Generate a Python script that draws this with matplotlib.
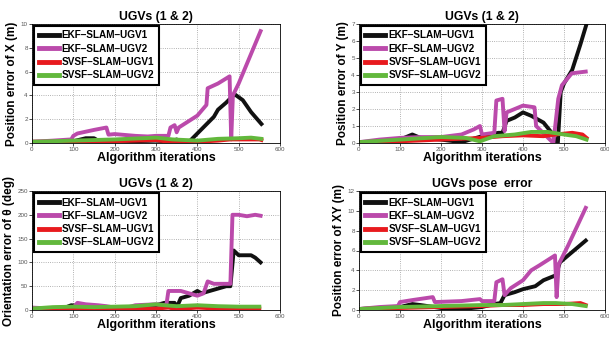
import matplotlib
matplotlib.use("Agg")
import matplotlib.pyplot as plt

plt.rcParams['font.family'] = ['Liberation Sans', 'DejaVu Sans']

labels = ["EKF\u2013SLAM\u2013UGV1", "EKF\u2013SLAM\u2013UGV2", "SVSF\u2013SLAM\u2013UGV1", "SVSF\u2013SLAM\u2013UGV2"]
colors = ["#111111", "#bb4aab", "#e81a1e", "#62b83c"]

# Panel 1: X error
x1_ekf1 = [0, 50, 100, 130, 150, 160, 200, 250, 300, 340, 350, 355, 380, 400, 420, 440, 450, 470, 490, 510, 530, 555]
y1_ekf1 = [0.1, 0.1, 0.15, 0.4, 0.4, 0.2, 0.2, 0.15, 0.2, 0.1, 0.3, 0.1, 0.1, 0.8, 1.5, 2.2, 2.8, 3.4, 4.1, 3.6, 2.6, 1.6]
x1_ekf2 = [0, 50, 95, 100, 110, 150, 180, 185, 200, 250, 280, 300, 330, 335, 345, 350, 355, 400, 422, 425, 450, 478, 482, 486, 500, 553]
y1_ekf2 = [0.1, 0.2, 0.3, 0.6, 0.8, 1.1, 1.3, 0.7, 0.75, 0.6, 0.55, 0.6, 0.6, 1.3, 1.5, 0.9, 1.3, 2.3, 3.2, 4.6, 5.0, 5.6, 0.3, 4.0, 5.0, 9.4]
x1_svsf1 = [0, 100, 200, 300, 330, 400, 450, 480, 550, 555]
y1_svsf1 = [0.1, 0.1, 0.15, 0.25, 0.1, 0.1, 0.2, 0.3, 0.3, 0.25]
x1_svsf2 = [0, 100, 200, 300, 340, 400, 450, 500, 530, 555]
y1_svsf2 = [0.1, 0.2, 0.3, 0.45, 0.3, 0.2, 0.35, 0.4, 0.45, 0.35]

# Panel 2: Y error
x2_ekf1 = [0, 90, 130, 150, 200, 250, 300, 340, 350, 360, 380, 400, 420, 450, 470, 480, 485, 492, 500, 520, 540, 555]
y2_ekf1 = [0.05, 0.1, 0.5, 0.3, 0.2, 0.05, 0.4, 0.6, 0.6, 1.3, 1.5, 1.8, 1.6, 1.2, 0.6, 0.1, 0.0, 3.0, 3.5, 4.3, 5.8, 7.0]
x2_ekf2 = [0, 50, 100, 150, 200, 250, 280, 295, 300, 330, 335, 350, 355, 360, 380, 400, 428, 432, 474, 486, 495, 519, 553]
y2_ekf2 = [0.05, 0.2, 0.3, 0.35, 0.35, 0.5, 0.8, 1.0, 0.5, 0.6, 2.5, 2.6, 0.7, 1.8, 2.0, 2.2, 2.1, 1.0, 0.0, 2.6, 3.4, 4.1, 4.2]
x2_svsf1 = [0, 100, 200, 300, 350, 400, 450, 480, 520, 545, 555]
y2_svsf1 = [0.05, 0.1, 0.2, 0.3, 0.4, 0.45, 0.4, 0.5, 0.6, 0.5, 0.3]
x2_svsf2 = [0, 100, 200, 260, 295, 330, 380, 420, 460, 500, 530, 555]
y2_svsf2 = [0.05, 0.2, 0.35, 0.3, 0.1, 0.4, 0.5, 0.65, 0.65, 0.5, 0.4, 0.2]

# Panel 3: orientation error
x3_ekf1 = [0, 80, 95, 120, 150, 200, 250, 300, 320, 345, 350, 360, 380, 400, 410, 430, 450, 470, 480, 488, 500, 530, 540, 553]
y3_ekf1 = [3, 5, 10, 8, 5, 3, 5, 10, 15, 15, 5, 25, 30, 40, 35, 40, 45, 50, 50, 125, 115, 115, 110, 100]
x3_ekf2 = [0, 50, 100, 110, 130, 160, 180, 200, 230, 250, 300, 325, 330, 360, 380, 400, 415, 425, 440, 480, 485, 500, 520, 540, 553]
y3_ekf2 = [5, 3, 5, 15, 12, 10, 8, 5, 5, 10, 12, 10, 40, 40, 35, 30, 35, 60, 55, 55, 200, 200, 197, 200, 198]
x3_svsf1 = [0, 100, 200, 300, 330, 350, 400, 450, 550]
y3_svsf1 = [2, 3, 2, 3, 5, 2, 5, 3, 3]
x3_svsf2 = [0, 50, 100, 150, 250, 300, 320, 350, 400, 450, 500, 550]
y3_svsf2 = [3, 6, 7, 6, 8, 12, 10, 8, 10, 8, 7, 7]

# Panel 4: XY error
x4_ekf1 = [0, 100, 130, 150, 200, 250, 300, 330, 345, 355, 380, 400, 430, 450, 480, 490, 510, 553]
y4_ekf1 = [0.1, 0.3, 0.6, 0.5, 0.2, 0.1, 0.3, 0.6, 0.7, 1.5, 1.8, 2.1, 2.4, 3.0, 3.5, 4.8, 5.5, 7.0]
x4_ekf2 = [0, 50, 95, 100, 130, 180, 185, 250, 295, 300, 330, 335, 350, 355, 370, 400, 420, 440, 478, 482, 487, 510, 553]
y4_ekf2 = [0.1, 0.3, 0.4, 0.8, 1.0, 1.3, 0.8, 0.9, 1.1, 0.9, 0.9, 2.8, 3.1, 1.5, 2.2, 3.0, 4.0, 4.5, 5.5, 1.3, 4.6, 6.5, 10.3]
x4_svsf1 = [0, 100, 200, 300, 350, 400, 450, 500, 540, 553]
y4_svsf1 = [0.1, 0.2, 0.3, 0.4, 0.5, 0.5, 0.6, 0.6, 0.7, 0.5]
x4_svsf2 = [0, 100, 200, 300, 350, 450, 480, 520, 553]
y4_svsf2 = [0.1, 0.3, 0.4, 0.5, 0.5, 0.7, 0.7, 0.6, 0.4]

panels = [
    dict(series=[(x1_ekf1, y1_ekf1), (x1_ekf2, y1_ekf2), (x1_svsf1, y1_svsf1), (x1_svsf2, y1_svsf2)],
         ymax=10, ystep=2, ylabel="Position error of X (m)", title="UGVs (1 & 2)",
         pos=[32/609, 1-143/338, 248/609, 119/338]),
    dict(series=[(x2_ekf1, y2_ekf1), (x2_ekf2, y2_ekf2), (x2_svsf1, y2_svsf1), (x2_svsf2, y2_svsf2)],
         ymax=7, ystep=1, ylabel="Position error of Y (m)", title="UGVs (1 & 2)",
         pos=[359/609, 1-143/338, 246/609, 119/338]),
    dict(series=[(x3_ekf1, y3_ekf1), (x3_ekf2, y3_ekf2), (x3_svsf1, y3_svsf1), (x3_svsf2, y3_svsf2)],
         ymax=250, ystep=50, ylabel="Orientation error of \u03b8 (deg)", title="UGVs (1 & 2)",
         pos=[32/609, 1-310/338, 248/609, 119/338]),
    dict(series=[(x4_ekf1, y4_ekf1), (x4_ekf2, y4_ekf2), (x4_svsf1, y4_svsf1), (x4_svsf2, y4_svsf2)],
         ymax=12, ystep=2, ylabel="Position error of XY (m)", title="UGVs pose  error",
         pos=[359/609, 1-310/338, 246/609, 119/338]),
]

fig = plt.figure(figsize=(6.09, 3.38), dpi=100)
for p in panels:
    ax = fig.add_axes(p["pos"])
    for (xs, ys), c, lab in zip(p["series"], colors, labels):
        ax.plot(xs, ys, color=c, lw=2.8, label=lab, solid_joinstyle='round')
    ax.set_xlim(0, 600)
    ax.set_ylim(0, p["ymax"])
    ax.set_xticks(range(0, 601, 100))
    ax.set_yticks(range(0, p["ymax"] + 1, p["ystep"]))
    ax.grid(True, linestyle=':', color='#999999', linewidth=0.6)
    ax.tick_params(labelsize=4.5, labelcolor='#555555', length=2, width=0.5, pad=1)
    for s in ax.spines.values():
        s.set_linewidth(0.6)
    ax.set_title(p["title"], fontsize=8.8, fontweight='bold', pad=3)
    ax.set_xlabel("Algorithm iterations", fontsize=9, fontweight='bold', labelpad=0)
    ax.set_ylabel(p["ylabel"], fontsize=8.5, fontweight='bold', labelpad=2)
    leg = ax.legend(loc='upper left', prop=dict(size=7.2, weight='bold'), fancybox=False,
                    framealpha=1, edgecolor='black', handlelength=2.0, borderpad=0.45,
                    labelspacing=0.33, handletextpad=0.3, borderaxespad=0.2)
    leg.get_frame().set_linewidth(1.5)
    for h in leg.get_lines():
        h.set_linewidth(3.5)

fig.savefig("out.png", dpi=100)
